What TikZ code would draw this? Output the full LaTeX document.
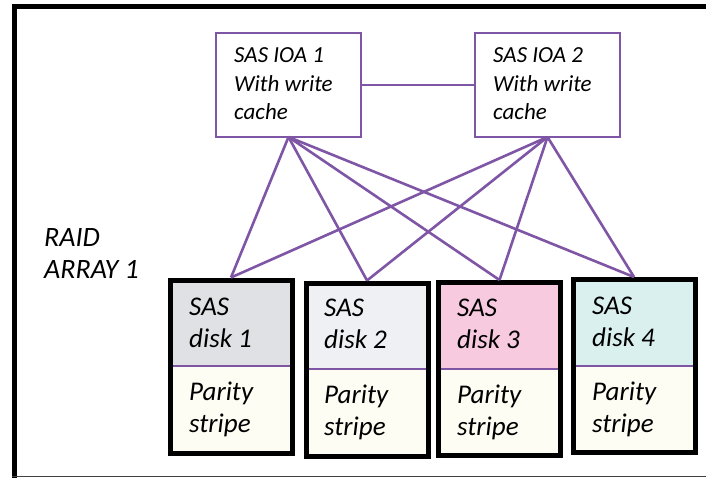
\documentclass[tikz,border=0pt]{standalone}
\usepackage{fontspec}
\setmainfont{Carlito}
\definecolor{vio}{HTML}{7F56A5}
\definecolor{ivory}{HTML}{FDFDF3}
\definecolor{dgray}{HTML}{E0E1E4}
\definecolor{lgray}{HTML}{EEF0F3}
\definecolor{pinkish}{HTML}{F8CADF}
\definecolor{aqua}{HTML}{D9F0EE}
\begin{document}
\begin{tikzpicture}[x=1pt,y=-1pt,
  ioa/.style={draw=vio, line width=2pt, minimum width=145pt, minimum height=104pt,
    inner sep=0pt, outer sep=0pt},
  disk/.style={draw=black, line width=5pt, fill=ivory, minimum width=122pt,
    minimum height=173pt, inner sep=0pt,
    path picture={
      \fill[#1] (path picture bounding box.north west) rectangle
        ([yshift=-86pt]path picture bounding box.north east);
      \draw[vio, line width=2pt] ([yshift=-86pt]path picture bounding box.north west) --
        ([yshift=-86pt]path picture bounding box.north east);
    }},
  link/.style={vio, line width=2.6pt},
  small/.style={anchor=base west, align=left, inner sep=0pt,
    font=\fontsize{23}{28.5}\selectfont\itshape},
  big/.style={anchor=base west, align=left, inner sep=0pt,
    font=\fontsize{27}{32}\selectfont\itshape}]
\useasboundingbox (0,0) rectangle (706,478);
\fill[white] (0,0) rectangle (706,478);

% outer frame
\draw[line width=5pt] (14.5,478) -- (14.5,6.5) -- (706,6.5);
\draw[line width=1.5pt, black!75] (12,476.5) -- (706,476.5);

% controllers
\node[ioa] (ioa1) at (288.5,85) {};
\node[ioa] (ioa2) at (547.5,85) {};
% label positions are given at the baseline of the last line
\node[small] (t1) at (234,120) {SAS IOA 1\\With write\\cache};
\node[small] (t2) at (493,120) {SAS IOA 2\\With write\\cache};
\draw[vio, line width=2pt] (ioa1.east) -- (ioa2.west);

% disks
\node[disk=dgray] (disk1) at (231,366.5) {};
\node[disk=lgray] (disk2) at (367,369.5) {};
\node[disk=pinkish] (disk3) at (499.5,369) {};
\node[disk=aqua] (disk4) at (634,366) {};

% links from each controller to every disk
\foreach \c in {ioa1,ioa2}
  \foreach \d in {disk1,disk2,disk3,disk4}
    \draw[link] (\c.south) -- (\d.north);

% labels
\node[big, font=\fontsize{28}{32}\selectfont\itshape] (raid) at (44,278) {RAID\\ARRAY 1};
\node[big] (s1) at (189,347) {SAS\\disk 1};
\node[big] (p1) at (189,432) {Parity\\stripe};
\node[big] (s2) at (324,348) {SAS\\disk 2};
\node[big] (p2) at (324,435) {Parity\\stripe};
\node[big] (s3) at (457,348) {SAS\\disk 3};
\node[big] (p3) at (457,435) {Parity\\stripe};
\node[big] (s4) at (592,346) {SAS\\disk 4};
\node[big] (p4) at (592,432) {Parity\\stripe};
\end{tikzpicture}
\end{document}
